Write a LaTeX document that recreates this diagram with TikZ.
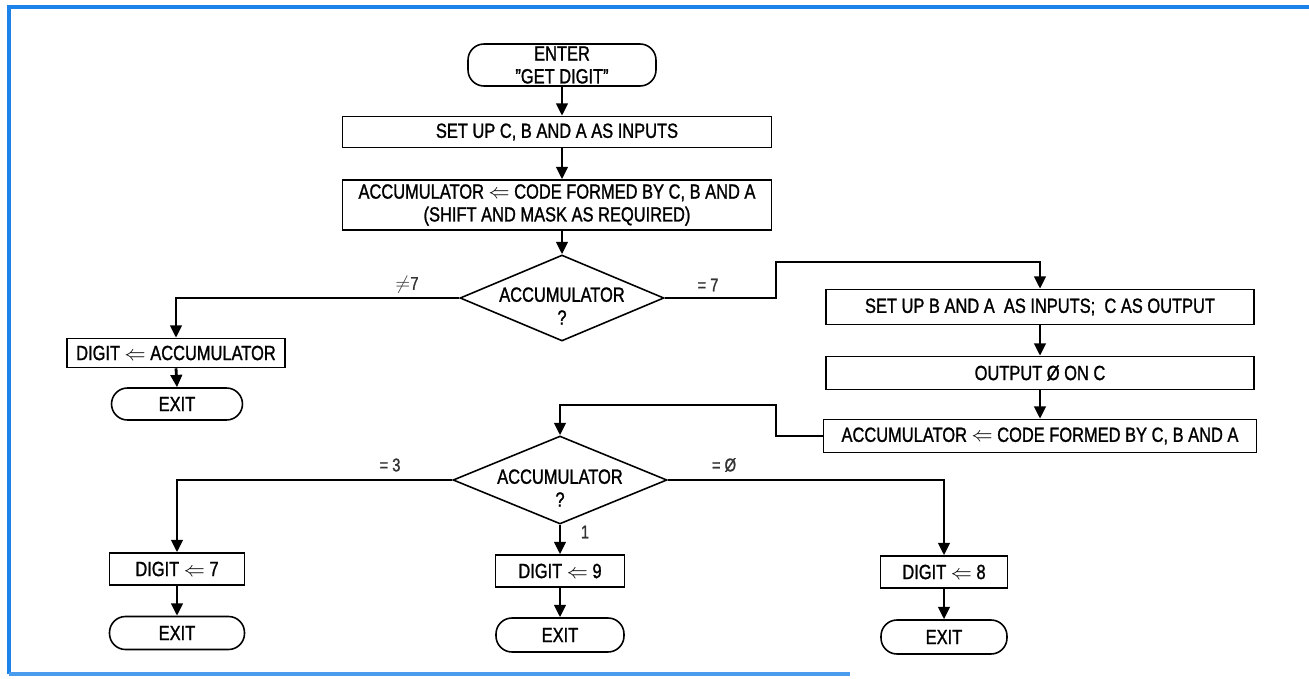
\documentclass[tikz,border=0pt]{standalone}
\usepackage{fontspec}
\setmainfont{Liberation Sans}[FakeStretch=0.8,FakeBold=1.2]
\usetikzlibrary{shapes.geometric,arrows.meta}
\definecolor{frameblue}{RGB}{30,130,235}
\tikzset{
  every node/.style={font=\fontsize{11.7pt}{13pt}\selectfont, inner sep=0pt, align=center},
  procbox/.style={draw, line width=0.9pt, rectangle},
  term/.style={draw, line width=0.9pt, rectangle, rounded corners=0.32cm},
  decision/.style={draw, line width=0.9pt, diamond},
  flow/.style={line width=1.6pt, -{Triangle[length=7pt,width=6.5pt]}},
  lbl/.style={font=\fontsize{10.5pt}{11pt}\selectfont, text=black!80},
}
\begin{document}
\begin{tikzpicture}[x=0.02cm,y=-0.02cm]
\useasboundingbox (0,0) rectangle (1309,679);
% frame
\draw[frameblue, line width=2.2pt] (9,674) -- (9,7) -- (1309,7);
\draw[frameblue!80, line width=1.8pt] (9,674) -- (850,674);

% nodes
\node[term, minimum width=3.76cm, minimum height=0.84cm] (enter) at (562,65) {ENTER\\"GET DIGIT"};
\node[procbox, minimum width=8.58cm, minimum height=0.62cm] (b1) at (557,132) {SET UP C, B AND A AS INPUTS};
\node[procbox, minimum width=8.58cm, minimum height=1.0cm] (b2) at (557,205) {ACCUMULATOR $\Leftarrow$ CODE FORMED BY C, B AND A\\(SHIFT AND MASK AS REQUIRED)};
\node[decision, aspect=2.36, minimum width=4.08cm, minimum height=1.72cm] (d1) at (562,298) {};
\node (d1t) at (562,306) {ACCUMULATOR\\?};
\node[procbox, minimum width=4.36cm, minimum height=0.58cm] (bl) at (176,353) {DIGIT $\Leftarrow$ ACCUMULATOR};
\node[term, minimum width=2.62cm, minimum height=0.64cm] (x1) at (177,404) {EXIT};
\node[procbox, minimum width=8.56cm, minimum height=0.7cm] (b3) at (1040,307) {SET UP B AND A\ \ AS INPUTS;\ \ C AS OUTPUT};
\node[procbox, minimum width=8.56cm, minimum height=0.66cm] (b4) at (1040,373) {OUTPUT Ø ON C};
\node[procbox, minimum width=8.66cm, minimum height=0.66cm] (b5) at (1040,436) {ACCUMULATOR $\Leftarrow$ CODE FORMED BY C, B AND A};
\node[decision, aspect=2.43, minimum width=4.28cm, minimum height=1.76cm] (d2) at (560,480) {};
\node (d2t) at (560,488) {ACCUMULATOR\\?};
\node[procbox, minimum width=2.7cm, minimum height=0.64cm] (b7) at (177,569) {DIGIT $\Leftarrow$ 7};
\node[term, minimum width=2.7cm, minimum height=0.66cm] (x7) at (177,633) {EXIT};
\node[procbox, minimum width=2.58cm, minimum height=0.64cm] (b9) at (560,571) {DIGIT $\Leftarrow$ 9};
\node[term, minimum width=2.56cm, minimum height=0.68cm] (x9) at (560,635) {EXIT};
\node[procbox, minimum width=2.54cm, minimum height=0.64cm] (b8) at (944,572) {DIGIT $\Leftarrow$ 8};
\node[term, minimum width=2.52cm, minimum height=0.68cm] (x8) at (944,637) {EXIT};

% coordinates
\coordinate (c1) at (776,262);
\coordinate (c2) at (776,405);

% connectors
\draw[flow] (enter.south) -- (enter.south |- b1.north);
\draw[flow] (enter.south |- b1.south) -- (enter.south |- b2.north);
\draw[flow] (enter.south |- b2.south) -- (d1.north);
\draw[flow] (d1.west) -| (bl.north);
\draw[flow] (bl.south) -- (x1.north);
\draw[flow] (d1.east) -| (c1) -| (b3.north);
\draw[flow] (b3.south) -- (b4.north);
\draw[flow] (b4.south) -- (b5.north);
\draw[flow] (b5.west) -| (c2) -| (d2.north);
\draw[flow] (d2.west) -| (b7.north);
\draw[flow] (b7.south) -- (x7.north);
\draw[flow] (d2.south) -- (b9.north);
\draw[flow] (b9.south) -- (x9.north);
\draw[flow] (d2.east) -| (b8.north);
\draw[flow] (b8.south) -- (x8.north);

% labels
\node[lbl] (l1) at (407,285) {$\neq$7};
\node[lbl] (l2) at (708,285) {= 7};
\node[lbl] (l3) at (390,465) {= 3};
\node[lbl] (l4) at (724,465) {= Ø};
\node[lbl] (l5) at (585,532) {1};
\end{tikzpicture}
\end{document}
